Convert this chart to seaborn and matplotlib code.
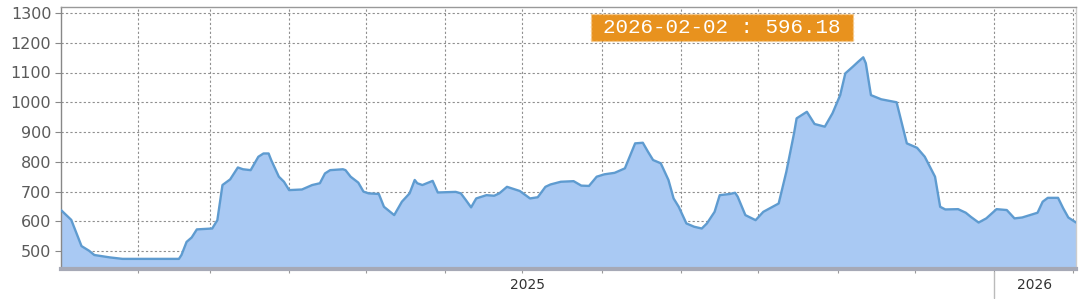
import matplotlib
matplotlib.use("Agg")
import matplotlib.pyplot as plt
import matplotlib.dates as mdates
import matplotlib.transforms as mtransforms
from matplotlib.patches import Rectangle
import numpy as np
import pandas as pd
import seaborn as sns

dates = [
    "2025-01-02", "2025-01-06", "2025-01-10", "2025-01-13", "2025-01-15", "2025-01-21",
    "2025-01-26", "2025-02-17", "2025-02-18", "2025-02-20", "2025-02-22", "2025-02-24",
    "2025-03-02", "2025-03-04", "2025-03-06", "2025-03-09", "2025-03-12", "2025-03-14",
    "2025-03-17", "2025-03-20", "2025-03-22", "2025-03-24", "2025-03-25", "2025-03-28",
    "2025-03-30", "2025-04-01", "2025-04-06", "2025-04-10", "2025-04-13", "2025-04-15",
    "2025-04-17", "2025-04-22", "2025-04-23", "2025-04-25", "2025-04-28", "2025-04-30",
    "2025-05-02", "2025-05-06", "2025-05-08", "2025-05-12", "2025-05-15", "2025-05-18",
    "2025-05-20", "2025-05-21", "2025-05-23", "2025-05-27", "2025-05-29", "2025-06-05",
    "2025-06-07", "2025-06-09", "2025-06-11", "2025-06-13", "2025-06-17", "2025-06-20",
    "2025-06-22", "2025-06-25", "2025-06-30", "2025-07-04", "2025-07-07", "2025-07-10",
    "2025-07-12", "2025-07-16", "2025-07-21", "2025-07-24", "2025-07-27", "2025-07-30",
    "2025-08-02", "2025-08-06", "2025-08-10", "2025-08-14", "2025-08-17", "2025-08-19",
    "2025-08-21", "2025-08-24", "2025-08-27", "2025-08-29", "2025-08-31", "2025-09-03",
    "2025-09-06", "2025-09-09", "2025-09-11", "2025-09-14", "2025-09-16", "2025-09-20",
    "2025-09-22", "2025-09-23", "2025-09-26", "2025-09-30", "2025-10-03", "2025-10-09",
    "2025-10-12", "2025-10-15", "2025-10-16", "2025-10-20", "2025-10-23", "2025-10-27",
    "2025-10-30", "2025-11-02", "2025-11-04", "2025-11-07", "2025-11-09", "2025-11-11",
    "2025-11-12", "2025-11-14", "2025-11-18", "2025-11-24", "2025-11-28", "2025-12-02",
    "2025-12-05", "2025-12-09", "2025-12-11", "2025-12-13", "2025-12-18", "2025-12-21",
    "2025-12-23", "2025-12-26", "2025-12-29", "2026-01-02", "2026-01-06", "2026-01-09",
    "2026-01-12", "2026-01-15", "2026-01-18", "2026-01-20", "2026-01-22", "2026-01-26",
    "2026-01-28", "2026-01-30", "2026-02-01", "2026-02-02",
]
values = [
    638, 605, 517, 501, 487, 479,
    474, 474, 487, 531, 546, 573,
    576, 604, 722, 741, 781, 775,
    772, 817, 828, 828, 806, 750,
    733, 705, 707, 722, 728, 761,
    772, 775, 772, 750, 730, 700,
    694, 692, 649, 621, 666, 694,
    739, 728, 722, 736, 697, 699,
    694, 671, 647, 677, 688, 686,
    694, 716, 702, 677, 681, 716,
    724, 733, 735, 720, 719, 750,
    758, 763, 778, 862, 864, 834,
    806, 795, 739, 677, 649, 593,
    582, 576, 593, 632, 688, 692,
    696, 683, 621, 604, 632, 660,
    767, 896, 946, 968, 927, 918,
    963, 1024, 1097, 1120, 1136, 1151,
    1131, 1024, 1010, 1000, 862, 847,
    817, 750, 649, 640, 641, 629,
    615, 596, 610, 641, 638, 610,
    613, 621, 629, 666, 679, 679,
    644, 613, 602, 596.18,
]
y_ticks = [500, 600, 700, 800, 900, 1000, 1100, 1200, 1300]
year_labels = ["2025", "2026"]
annotation_text = "2026-02-02 : 596.18"

df = pd.DataFrame({"date": pd.to_datetime(dates), "value": values})

sns.set_theme(style="white")
plt.rcParams["font.family"] = ["DejaVu Sans"]

fig = plt.figure(figsize=(10.8, 2.99), dpi=100)
ax = fig.add_axes([61 / 1080, 1 - 269 / 299, 1015 / 1080, 262 / 299])

ymin, ymax = 440, 1320
ax.fill_between(df["date"], df["value"], ymin, color="#A9C9F3", linewidth=0, zorder=2)
sns.lineplot(data=df, x="date", y="value", ax=ax, color="#5E9BD0", linewidth=1.7, zorder=3)
for ln in ax.lines:
    ln.set_solid_joinstyle("round")
    ln.set_solid_capstyle("round")

ax.set_ylim(ymin, ymax)
ax.set_xlim(df["date"].iloc[0], df["date"].iloc[-1])
ax.set_xlabel("")
ax.set_ylabel("")

# y axis
ax.set_yticks(y_ticks)
ax.set_yticklabels([str(v) for v in y_ticks], fontsize=11.5, color="#5a5a5a")
ax.tick_params(axis="y", length=4, width=0.8, color="#888888", pad=3, left=True)

# x axis: monthly ticks with grid, no labels
months = pd.date_range("2025-02-01", "2026-02-01", freq="MS")
ax.set_xticks(months)
ax.set_xticklabels([""] * len(months))
ax.tick_params(axis="x", length=3, width=0.8, color="#999999", pad=2, bottom=True)

ax.grid(True, which="major", axis="both", color="#8f8f8f", linestyle=(0, (2, 2)), linewidth=0.8, zorder=1)
ax.set_axisbelow(True)

# year labels centred on visible year span
trans = mtransforms.blended_transform_factory(ax.transData, ax.transAxes)
x_left = mdates.date2num(df["date"].iloc[0])
x_right = mdates.date2num(df["date"].iloc[-1])
x_2026 = mdates.date2num(pd.Timestamp("2026-01-01"))
ax.text((x_left + x_2026) / 2, -0.035, year_labels[0], transform=trans, ha="center", va="top",
        fontsize=10, color="#333333")
ax.text((x_2026 + x_right) / 2, -0.035, year_labels[1], transform=trans, ha="center", va="top",
        fontsize=10, color="#333333")
ax.plot([x_2026, x_2026], [-0.01, -0.11], transform=trans, color="#BBBBBB", linewidth=1, clip_on=False)

# spines
ax.spines["left"].set_color("#888888")
ax.spines["left"].set_linewidth(1.0)
ax.spines["top"].set_color("#999999")
ax.spines["top"].set_linewidth(1.0)
ax.spines["right"].set_color("#CCCCCC")
ax.spines["right"].set_linewidth(1.0)
ax.spines["bottom"].set_color("#A6A9B6")
ax.spines["bottom"].set_linewidth(3.0)

# annotation box
rect = Rectangle((530 / 1015, 1 - 34 / 262), 262 / 1015, 27 / 262, transform=ax.transAxes,
                 facecolor="#E8921E", edgecolor="#F6C98A", linewidth=1, linestyle=(0, (1.5, 1.5)),
                 zorder=10, clip_on=False)
ax.add_patch(rect)
ax.text((530 + 131) / 1015, 1 - 20.5 / 262, annotation_text, transform=ax.transAxes,
        ha="center", va="center", fontsize=15, color="white", family="Liberation Mono", zorder=11)

fig.savefig("out.png", dpi=100)
